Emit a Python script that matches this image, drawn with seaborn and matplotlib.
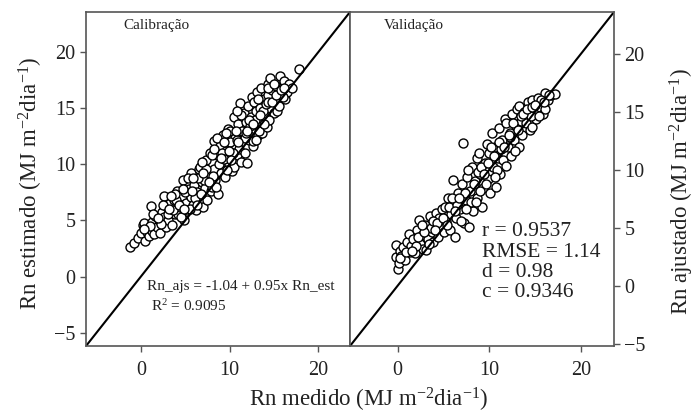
import numpy as np
import pandas as pd
import matplotlib
matplotlib.use("Agg")
import matplotlib.pyplot as plt
import seaborn as sns

# Calibracao: Rn medido (x) vs Rn estimado (y)
cal_x = [-1.2, -0.8, -0.3, 0.0, 0.2, 0.3, 0.5, 0.7, 0.9, 1.1, 1.2, 1.3, 1.5, 1.6, 1.8, 2.0, 2.2, 2.4,
         2.6, 2.6, 2.8, 2.9, 3.1, 3.3, 3.5, 3.7, 3.9, 4.1, 4.2, 4.4, 4.6, 4.8, 4.9, 5.1, 5.2, 5.4,
         5.6, 5.7, 5.9, 6.0, 6.2, 6.3, 6.5, 6.6, 6.7, 6.9, 7.0, 7.2, 7.3, 7.5, 7.6, 7.8, 7.9, 8.0,
         8.2, 8.3, 8.4, 8.6, 8.7, 8.9, 9.0, 9.2, 9.3, 9.5, 9.6, 9.8, 9.9, 10.1, 10.2, 10.3, 10.5, 10.5,
         10.6, 10.8, 11.0, 11.1, 11.2, 11.3, 11.5, 11.6, 11.8, 11.9, 12.0, 12.1, 12.2, 12.4, 12.5, 12.6,
         12.7, 12.8, 12.9, 13.0, 13.1, 13.2, 13.4, 13.5, 13.6, 13.7, 13.9, 14.0, 14.2, 14.3, 14.4, 14.6,
         14.6, 14.8, 15.0, 15.2, 15.4, 15.5, 15.75, 15.9, 16.1, 16.3, 16.5, 16.7, 17.0, 17.8,
         1.0, 2.3, 3.0, 3.6, 4.0, 4.5, 5.0, 5.5, 6.1, 6.8, 7.1, 7.4, 8.1, 8.5, 8.8, 9.1, 9.4, 9.7,
         10.0, 10.4, 10.9, 11.4, 11.7, 12.3, 12.9, 13.3, 13.8, 14.1, 14.5, 15.1, 15.6, 16.0,
         0.4, 1.4, 1.9, 2.5, 3.2, 3.8, 4.3, 4.7, 5.3, 5.8, 6.4, 6.9, 7.7, 8.0, 8.6, 9.0, 9.4, 9.9,
         10.2, 10.7, 11.0, 11.3, 11.9, 12.2, 12.6, 13.0, 13.4, 13.9, 14.3, 14.8, 15.3, 15.8, 16.2,
         6.3, 7.0, 8.3, 9.6, 10.8, 12.0, 13.2, 14.4, 15.0, 3.4, 4.9, 5.9]
cal_y = [2.6, 3.0, 3.4, 3.9, 4.6, 4.8, 3.2, 4.0, 3.6, 6.3, 4.1, 4.9, 3.8, 5.4, 4.4, 5.0, 3.9, 5.8,
         5.3, 7.2, 4.4, 6.2, 5.0, 6.6, 4.6, 6.8, 5.6, 7.6, 5.6, 6.2, 7.2, 8.6, 5.0, 6.6, 5.9, 7.8,
         7.1, 9.2, 6.4, 8.2, 5.9, 7.5, 9.6, 6.8, 9.75, 8.4, 6.2, 7.9, 10.4, 6.8, 9.0, 11.0, 7.6, 8.0,
         12.1, 9.6, 8.6, 10.8, 7.4, 11.6, 9.2, 10.2, 12.6, 8.9, 11.2, 13.2, 10.0, 13.0, 11.6, 9.4, 14.2, 9.75,
         12.4, 10.8, 13.6, 11.4, 15.5, 10.2, 12.8, 14.6, 11.0, 13.8, 10.1, 15.2, 12.2, 14.2, 16.0, 11.6,
         12.1, 15.6, 13.2, 14.8, 16.5, 12.6, 15.0, 13.8, 16.8, 12.8, 15.8, 14.2, 13.3, 16.2, 17.2, 17.7,
         15.0, 16.6, 14.6, 17.0, 14.8, 16.2, 17.9, 16.8, 17.4, 15.8, 16.5, 17.2, 16.8, 18.5,
         4.5, 4.7, 5.6, 5.9, 6.8, 5.3, 7.5, 6.0, 7.0, 7.4, 8.6, 9.6, 9.0, 8.0, 10.0, 11.0, 10.5, 9.5,
         12.0, 11.0, 12.2, 13.0, 12.4, 13.4, 14.0, 13.0, 14.8, 15.4, 14.0, 15.6, 15.2, 16.0,
         4.2, 5.6, 5.2, 6.4, 6.0, 7.4, 6.4, 7.8, 8.8, 7.6, 8.8, 10.2, 8.4, 10.8, 12.4, 10.6, 12.0, 11.2,
         10.4, 13.0, 12.0, 14.4, 12.8, 14.0, 13.6, 12.2, 14.4, 13.6, 15.6, 15.6, 16.2, 16.6, 16.8,
         6.4, 9.2, 11.4, 12.8, 14.8, 13.0, 15.8, 16.8, 17.2, 7.2, 6.0, 8.8]

# Validacao: Rn medido (x) vs Rn ajustado (y)
val_x = [0.0, -0.2, -0.2, 0.1, 0.2, 0.4, 0.6, 0.8, 1.0, 1.2, 1.3, 1.5, 1.7, 1.9, 2.1, 2.3, 2.4, 2.6,
         2.8, 3.0, 3.1, 3.3, 3.5, 3.7, 3.9, 4.0, 4.2, 4.4, 4.6, 4.8, 5.0, 5.2, 5.3, 5.5, 5.7, 5.8,
         6.0, 6.1, 6.3, 6.4, 6.6, 6.8, 7.0, 7.1, 7.2, 7.4, 7.6, 7.8, 7.9, 8.1, 8.2, 8.4, 8.6, 8.7,
         8.9, 9.0, 9.2, 9.3, 9.5, 9.7, 9.8, 10.0, 10.1, 10.3, 10.4, 10.6, 10.7, 10.9, 11.0, 11.2,
         11.4, 11.5, 11.7, 11.8, 11.8, 12.0, 12.2, 12.4, 12.5, 12.7, 12.9, 13.0, 13.2, 13.2, 13.4,
         13.6, 13.8, 14.0, 14.2, 14.4, 14.7, 14.7, 14.9, 15.1, 15.3, 15.5, 15.8, 16.1, 16.1, 16.4,
         16.7, 17.2,
         2.0, 3.6, 4.5, 5.6, 6.5, 7.3, 8.0, 8.8, 9.6, 10.5, 11.3, 12.3, 13.5, 14.5, 15.6,
         0.3, 0.9, 1.6, 2.2, 2.9, 3.4, 3.8, 4.3, 4.9, 5.4, 5.9, 6.2, 6.7, 7.5, 8.3, 8.5, 9.1, 9.4,
         9.9, 10.2, 10.8, 11.1, 11.6, 12.1, 12.6, 13.1, 13.7, 14.1, 14.6, 15.0, 15.4, 16.0, 16.5,
         6.9, 7.7, 9.0, 10.6, 12.8, 4.1, 2.7]
val_y = [1.4, 2.5, 3.5, 2.0, 3.0, 2.6, 3.3, 2.2, 3.8, 4.5, 2.9, 3.4, 4.0, 2.8, 4.8, 5.7, 3.6, 4.4,
         3.2, 5.2, 3.1, 4.0, 6.0, 4.6, 3.8, 5.4, 6.25, 4.2, 5.0, 6.6, 4.6, 6.8, 5.6, 7.6, 4.8, 6.2,
         9.1, 7.2, 4.2, 5.8, 8.0, 6.6, 8.8, 12.3, 5.4, 7.4, 9.4, 5.1, 8.2, 10.2, 6.4, 9.0, 11.0, 7.6,
         11.4, 9.6, 6.8, 8.4, 10.6, 12.2, 9.2, 11.4, 8.0, 13.2, 10.2, 12.0, 8.5, 11.0, 13.6, 9.6,
         12.6, 10.8, 14.4, 10.3, 14.0, 12.0, 13.2, 11.2, 14.8, 12.6, 13.8, 15.2, 12.0, 15.5, 14.2,
         13.0, 15.0, 14.0, 15.8, 13.4, 16.0, 13.7, 15.0, 14.4, 16.2, 15.4, 14.8, 16.6, 15.2, 16.0,
         16.4, 16.5,
         3.4, 5.0, 5.8, 6.8, 7.0, 8.0, 7.2, 9.8, 8.8, 11.2, 11.8, 12.8, 14.6, 14.6, 16.0,
         2.4, 2.9, 3.0, 4.2, 4.6, 3.6, 5.6, 5.4, 5.8, 5.2, 7.6, 6.4, 7.6, 6.6, 8.8, 7.2, 10.2, 9.6,
         10.6, 12.0, 10.0, 12.4, 12.0, 13.0, 14.0, 13.4, 14.8, 15.2, 15.4, 15.6, 14.6, 15.8, 16.4,
         5.6, 10.0, 8.2, 9.4, 11.6, 4.8, 5.2]

stats = ['r = 0.9537', 'RMSE = 1.14', 'd = 0.98', 'c = 0.9346']

cal = pd.DataFrame({"medido": cal_x, "estimado": cal_y})
val = pd.DataFrame({"medido": val_x, "ajustado": val_y})

sns.set_style("ticks")
plt.rcParams['font.family'] = ['Liberation Serif', 'DejaVu Serif']
plt.rcParams['mathtext.fontset'] = 'stix'
plt.rcParams['mathtext.default'] = 'regular'

txt = '#222222'
fig = plt.figure(figsize=(6.96, 4.16), dpi=100)
ax1 = fig.add_axes([86/696, 70/416, 264/696, 334/416])
ax2 = fig.add_axes([350/696, 70/416, 264/696, 334/416])

pts = dict(color='white', edgecolor='black', linewidth=1.0, s=42, legend=False)
sns.scatterplot(data=cal, x="medido", y="estimado", ax=ax1, **pts)
sns.scatterplot(data=val, x="medido", y="ajustado", ax=ax2, **pts)

ax1.set_xlim(-6.2, 23.6)
ax1.set_ylim(-6.2, 23.6)
ax2.set_xlim(-5.2, 23.6)
ax2.set_ylim(-5.2, 23.6)

for ax in (ax1, ax2):
    ax.axline((0, 0), slope=1, color='black', linewidth=1.5, zorder=1)
    ax.set_xticks([0, 10, 20])
    ax.set_yticks([-5, 0, 5, 10, 15, 20])
    ax.tick_params(direction='out', length=4, width=1, colors='#555555',
                   labelcolor=txt, labelsize=14.5)
    ax.tick_params(axis='x', pad=7)
    for sp in ax.spines.values():
        sp.set_visible(True)
        sp.set_color('#555555')
        sp.set_linewidth(1.2)
    ax.set_xlabel('')
    ax.set_ylabel('')

ax2.yaxis.tick_right()
ax2.tick_params(axis='y', left=False, right=True, labelleft=False, labelright=True)

fig.text(31/696, 1 - 183/416, 'Rn estimado (MJ m$^{-2}$dia$^{-1}$)', rotation=90,
         ha='center', va='center', fontsize=16.5, color=txt)
fig.text(682/696, 1 - 192/416, 'Rn ajustado (MJ m$^{-2}$dia$^{-1}$)', rotation=90,
         ha='center', va='center', fontsize=16.5, color=txt)
fig.text(369/696, 1 - 400/416, 'Rn medido (MJ m$^{-2}$dia$^{-1}$)', ha='center', va='center',
         fontsize=16.5, color=txt)

ax1.text(0.14, 0.96, 'Calibração', transform=ax1.transAxes, fontsize=11, color=txt,
         va='center')
ax2.text(0.13, 0.96, 'Validação', transform=ax2.transAxes, fontsize=11, color=txt,
         va='center')

ax1.text(0.23, 0.177, 'Rn_ajs = -1.04 + 0.95x Rn_est', transform=ax1.transAxes,
         fontsize=11, color=txt, va='center')
ax1.text(0.245, 0.12, 'R$^{2}$ = 0.9095', transform=ax1.transAxes,
         fontsize=11, color=txt, va='center')

ypos = [0.344, 0.281, 0.219, 0.159]
for s_, yy in zip(stats, ypos):
    ax2.text(0.5, yy, s_, transform=ax2.transAxes, fontsize=15.5, color=txt, va='center')

fig.savefig('out.png', dpi=100)
